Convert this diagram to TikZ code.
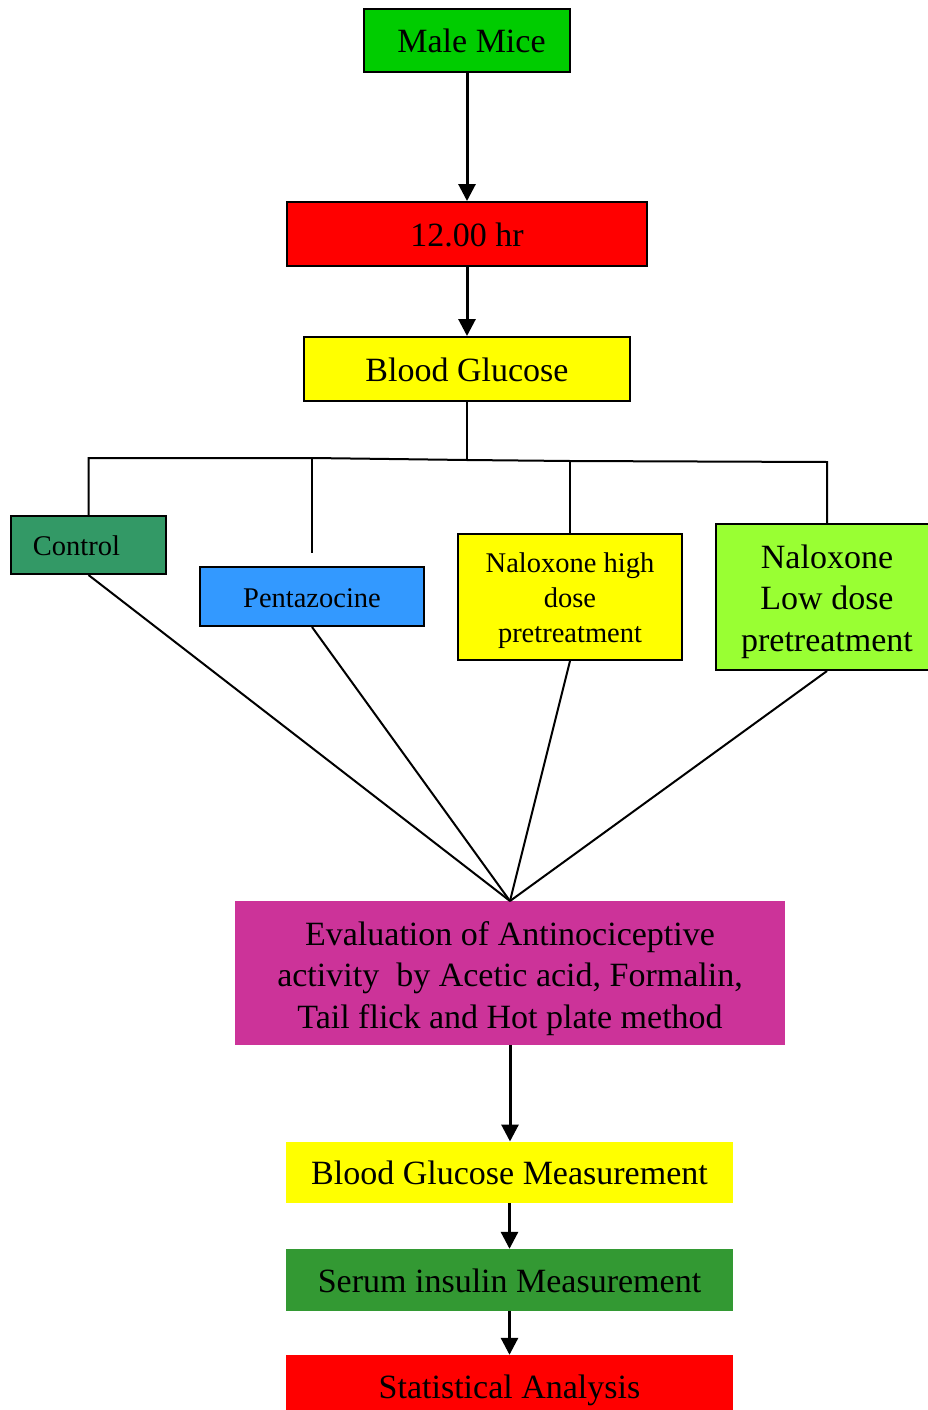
\documentclass[tikz,border=0pt]{standalone}
\usepackage{fontspec}
\setmainfont{Liberation Serif}
\usetikzlibrary{arrows.meta}
\definecolor{mgreen}{HTML}{00CC00}
\definecolor{mred}{HTML}{FF0000}
\definecolor{myellow}{HTML}{FFFF00}
\definecolor{seagreen}{HTML}{339966}
\definecolor{skyblue}{HTML}{3399FF}
\definecolor{lime}{HTML}{99FF33}
\definecolor{magenta2}{HTML}{CC3399}
\definecolor{dgreen}{HTML}{339933}
\begin{document}
\begin{tikzpicture}[x=1pt,y=-1pt,
  box/.style={draw=black,line width=2pt,inner sep=0pt,align=center,font=\fontsize{34}{41.5}\selectfont},
  oneline/.style={text height=31pt,text depth=7pt},
  sbox/.style={box,font=\fontsize{28.5}{35}\selectfont},
  soneline/.style={text height=25pt,text depth=4pt},
  plainbox/.style={inner sep=0pt,align=center,font=\fontsize{34}{41.5}\selectfont},
  arr/.style={line width=3pt,-{Triangle[length=17pt,width=17pt]}},
  ln/.style={line width=2pt}]
\useasboundingbox (0,0) rectangle (928,1410);

\node[box,oneline,fill=mgreen,minimum width=206pt,minimum height=63pt] (mice) at (467,40.5) {\hspace*{9pt}Male Mice};
\node[box,oneline,fill=mred,minimum width=360pt,minimum height=64pt] (hr) at (467,234) {12.00 hr};
\node[box,oneline,fill=myellow,minimum width=326pt,minimum height=64pt] (bg) at (467,369) {Blood Glucose};

\node[sbox,soneline,fill=seagreen,minimum width=155pt,minimum height=58pt] (control) at (88.5,545) {Control\hspace*{24pt}};
\node[sbox,soneline,fill=skyblue,minimum width=224pt,minimum height=59pt] (penta) at (312,596.5) {Pentazocine};
\node[sbox,fill=myellow,minimum width=224pt,minimum height=126pt] (nhigh) at (570,597) {\rule{0pt}{28pt}Naloxone high\\dose\\pretreatment};
\node[box,fill=lime,minimum width=222pt,minimum height=146pt] (nlow) at (827,597) {\rule{0pt}{33pt}Naloxone\\Low dose\\pretreatment};

\node[plainbox,fill=magenta2,minimum width=550pt,minimum height=144pt] (eval) at (510,973) {\rule{0pt}{35pt}Evaluation of Antinociceptive\\activity\ \ by Acetic acid, Formalin,\\Tail flick and Hot plate method};
\node[plainbox,oneline,fill=myellow,minimum width=447pt,minimum height=61pt] (bgm) at (509.5,1172.5) {Blood Glucose Measurement};
\node[plainbox,oneline,fill=dgreen,minimum width=447pt,minimum height=62pt] (serum) at (509.5,1280) {Serum insulin Measurement};
\node[plainbox,oneline,fill=mred,minimum width=447pt,minimum height=62pt] (stat) at (509.5,1386) {Statistical Analysis};

% arrows
\draw[arr] (mice.south) -- (hr.north);
\draw[arr] (hr.south) -- (bg.north);
\draw[arr] (eval.south -| 510,0) -- (510,1141.5);
\draw[arr] (bgm.south) -- (serum.north);
\draw[arr] (serum.south) -- (stat.north);

% tree
\coordinate (j) at (467,460);
\coordinate (hl) at (88.5,458);
\coordinate (hp) at (312,458);
\coordinate (hh) at (570,461);
\coordinate (hr2) at (827,462);
\coordinate (pt) at (312,553);
\draw[ln] (bg.south) -- (j);
\draw[ln] (control.north) -- (hl) -- (hp) -- (j) -- (hh) -- (hr2) -- (nlow.north);
\draw[ln] (hp) -- (pt);
\draw[ln] (hh) -- (nhigh.north);

% converging lines
\coordinate (conv) at (510,901);
\draw[ln] (control.south) -- (conv);
\draw[ln] (penta.south) -- (conv);
\draw[ln] (nhigh.south) -- (conv);
\draw[ln] (nlow.south) -- (conv);
\end{tikzpicture}
\end{document}
